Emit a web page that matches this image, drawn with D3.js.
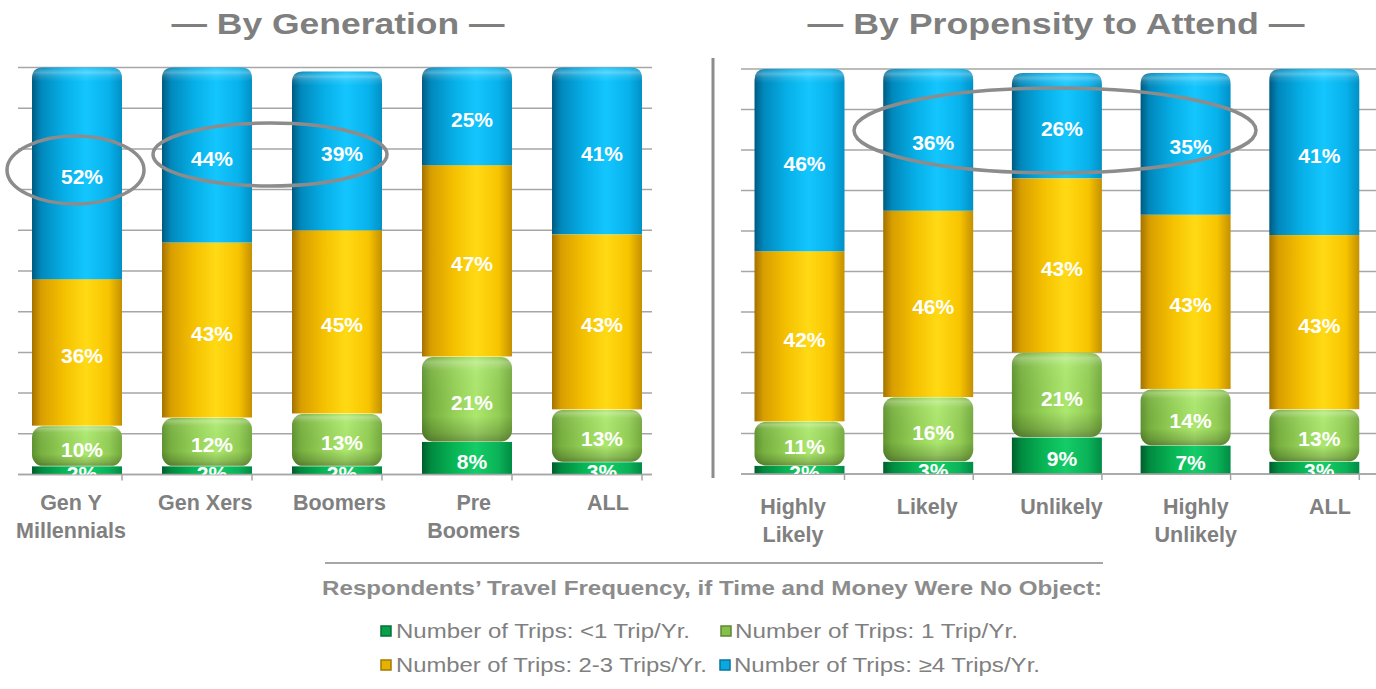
<!DOCTYPE html>
<html>
<head>
<meta charset="utf-8">
<script src="https://cdn.jsdelivr.net/npm/d3@7/dist/d3.min.js"></script>
<style>
  html, body { margin: 0; padding: 0; background: #ffffff; }
  svg { display: block; font-family: "Liberation Sans", Arial, sans-serif; }
</style>
</head>
<body>
<svg id="chart" width="1376" height="689"></svg>
<script>
// ---- data -------------------------------------------------------------
const seriesNames = [
  "Number of Trips: <1 Trip/Yr.",
  "Number of Trips: 1 Trip/Yr.",
  "Number of Trips: 2-3 Trips/Yr.",
  "Number of Trips: \u22654 Trips/Yr."
];

const generationCats = ["Gen Y\nMillennials", "Gen Xers", "Boomers", "Pre\nBoomers", "ALL"];
const genLessThanOne = [2, 2, 2, 8, 3];
const genOne         = [10, 12, 13, 21, 13];
const genTwoThree    = [36, 43, 45, 47, 43];
const genFourPlus    = [52, 44, 39, 25, 41];

const propensityCats = ["Highly\nLikely", "Likely", "Unlikely", "Highly\nUnlikely", "ALL"];
const propLessThanOne = [2, 3, 9, 7, 3];
const propOne         = [11, 16, 21, 14, 13];
const propTwoThree    = [42, 46, 43, 43, 43];
const propFourPlus    = [46, 36, 26, 35, 41];

const yTicks = [0, 10, 20, 30, 40, 50, 60, 70, 80, 90, 100];

const titles = ["\u2014 By Generation \u2014", "\u2014 By Propensity to Attend \u2014"];
const legendTitle = "Respondents\u2019 Travel Frequency, if Time and Money Were No Object:";

// ---- drawing ----------------------------------------------------------
const svg = d3.select("#chart");
const defs = svg.append("defs");
const GRAY = "#808080";
const GRID = "#a6a6a6";

// horizontal shading that gives each segment its cylinder look
const shades = [
  { id: "gDark",  stops: [[0, "#005e2c"], [0.1, "#008a40"], [0.35, "#08b454"], [0.6, "#14cc68"], [0.85, "#0ab258"], [1, "#008c44"]] },
  { id: "gLight", stops: [[0, "#5e9230"], [0.1, "#78b040"], [0.35, "#94d056"], [0.6, "#ace86e"], [0.85, "#94ce56"], [1, "#74aa3e"]] },
  { id: "gGold",  stops: [[0, "#a47200"], [0.1, "#d89e00"], [0.35, "#f4c000"], [0.6, "#ffda14"], [0.85, "#f8c400"], [1, "#c49000"]] },
  { id: "gBlue",  stops: [[0, "#005a80"], [0.1, "#0088bc"], [0.35, "#06aee6"], [0.6, "#14c6fe"], [0.85, "#08b2ec"], [1, "#0090c6"]] }
];
shades.forEach(s => {
  const g = defs.append("linearGradient").attr("id", s.id)
    .attr("x1", 0).attr("x2", 1).attr("y1", 0).attr("y2", 0);
  s.stops.forEach(([o, c]) => g.append("stop").attr("offset", o).attr("stop-color", c));
});
// vertical highlight / shadow on the pill-shaped segment
const pv = defs.append("linearGradient").attr("id", "pillV")
  .attr("x1", 0).attr("x2", 0).attr("y1", 0).attr("y2", 1);
[[0, "#ffffff", 0.0], [0.06, "#ffffff", 0.28], [0.16, "#ffffff", 0.05], [0.7, "#000000", 0.0], [0.9, "#000000", 0.16], [1, "#000000", 0.3]]
  .forEach(([o, c, a]) => pv.append("stop").attr("offset", o).attr("stop-color", c).attr("stop-opacity", a));
// highlight ring near the rounded top of the cylinder
const tv = defs.append("linearGradient").attr("id", "topV")
  .attr("x1", 0).attr("x2", 0).attr("y1", 0).attr("y2", 1);
[[0, "#ffffff", 0.05], [0.35, "#ffffff", 0.3], [0.6, "#ffffff", 0.12], [1, "#ffffff", 0]]
  .forEach(([o, c, a]) => tv.append("stop").attr("offset", o).attr("stop-color", c).attr("stop-opacity", a));

const fills = ["url(#gDark)", "url(#gLight)", "url(#gGold)", "url(#gBlue)"];
const swatch = ["#08a04a", "#86c04a", "#e8b000", "#08a8e0"];

function topRounded(x, y, w, h, r) {
  r = Math.min(r, h, w / 2);
  return `M${x},${y + h}V${y + r}Q${x},${y} ${x + r},${y}H${x + w - r}Q${x + w},${y} ${x + w},${y + r}V${y + h}Z`;
}

const panels = [
  {
    cats: generationCats,
    series: [genLessThanOne, genOne, genTwoThree, genFourPlus],
    xRange: [-8, 642], labelRange: [71, 608], gridX: [18, 652], yRange: [474.5, 67.5],
    title: titles[0], titleX: 338, titleLen: 333, labelY: 510, clipId: "clipL"
  },
  {
    cats: propensityCats,
    series: [propLessThanOne, propOne, propTwoThree, propFourPlus],
    xRange: [715.8, 1359.3], labelRange: [793, 1330], gridX: [741, 1376], yRange: [474, 69],
    title: titles[1], titleX: 1056, titleLen: 497, labelY: 514, clipId: "clipR"
  }
];

const barW = 90;

panels.forEach(p => {
  const x = d3.scaleBand().domain(p.cats).range(p.xRange);
  const xLabel = d3.scalePoint().domain(p.cats).range(p.labelRange);
  const y = d3.scaleLinear().domain([0, 100]).range(p.yRange);
  const barX = c => x(c) + x.bandwidth() - barW;

  const g = svg.append("g");

  // gridlines
  g.selectAll("line.grid").data(yTicks).join("line")
    .attr("x1", p.gridX[0]).attr("x2", p.gridX[1])
    .attr("y1", d => y(d)).attr("y2", d => y(d))
    .attr("stroke", GRID).attr("stroke-width", 1.5);

  // category axis with ticks at band ends
  const axis = g.append("g").attr("transform", `translate(0,${y(0)})`)
    .call(d3.axisBottom(x).tickSize(6).tickFormat(""));
  axis.select(".domain").remove();
  axis.selectAll(".tick").attr("transform", d => `translate(${x(d) + x.bandwidth()},0)`);
  axis.selectAll(".tick line").attr("stroke", GRID).attr("stroke-width", 1.5);

  // stacked layout
  const rows = p.cats.map((c, i) => {
    let acc = 0;
    return p.series.map((s, k) => {
      const y0 = Math.min(acc, 100);
      acc += s[i];
      const y1 = Math.min(acc, 100);
      return { cat: c, k, v: s[i], y0, y1 };
    });
  });
  const segs = rows.flat();

  const bars = g.append("g");
  segs.forEach(d => {
    const bx = barX(d.cat), top = y(d.y1), h = y(d.y0) - y(d.y1);
    if (d.k === 1) {
      const r = Math.min(11, h / 2);
      bars.append("rect").attr("x", bx).attr("y", top + 0.5).attr("width", barW).attr("height", h - 1)
        .attr("rx", r).attr("ry", r).attr("fill", fills[1]);
      bars.append("rect").attr("x", bx).attr("y", top + 0.5).attr("width", barW).attr("height", h - 1)
        .attr("rx", r).attr("ry", r).attr("fill", "url(#pillV)");
    } else if (d.k === 3) {
      bars.append("path").attr("d", topRounded(bx, top, barW, h, 11)).attr("fill", fills[3]);
      bars.append("path").attr("d", topRounded(bx, top, barW, Math.min(14, h), 11)).attr("fill", "url(#topV)");
    } else {
      bars.append("rect").attr("x", bx).attr("y", top).attr("width", barW).attr("height", h)
        .attr("fill", fills[d.k]);
    }
  });

  // axis baseline on top of the bars
  g.append("line").attr("x1", p.gridX[0]).attr("x2", p.gridX[1])
    .attr("y1", y(0)).attr("y2", y(0)).attr("stroke", GRID).attr("stroke-width", 1.5);

  // value labels, clipped at the baseline
  defs.append("clipPath").attr("id", p.clipId).append("rect")
    .attr("x", p.gridX[0] - 20).attr("y", 0).attr("width", p.gridX[1] - p.gridX[0] + 40).attr("height", y(0));
  g.append("g").attr("clip-path", `url(#${p.clipId})`)
    .selectAll("text").data(segs).join("text")
    .attr("x", d => barX(d.cat) + barW / 2 + 5)
    .attr("y", d => (y(d.y0) + y(d.y1)) / 2 + 10.5)
    .attr("text-anchor", "middle")
    .attr("fill", "#ffffff").attr("font-weight", "bold").attr("font-size", 21)
    .text(d => d.v + "%");

  // category labels
  p.cats.forEach(c => {
    const t = g.append("text").attr("text-anchor", "middle")
      .attr("fill", GRAY).attr("font-weight", "bold").attr("font-size", 21.5);
    c.split("\n").forEach((line, i) => {
      t.append("tspan").attr("x", xLabel(c)).attr("y", p.labelY + i * 27.5).text(line);
    });
  });

  // panel title
  g.append("text").attr("x", p.titleX).attr("y", 34).attr("text-anchor", "middle")
    .attr("fill", "#7f7f7f").attr("font-weight", "bold").attr("font-size", 29)
    .attr("textLength", p.titleLen).attr("lengthAdjust", "spacingAndGlyphs")
    .text(p.title);
});

// callout ellipses
const callouts = [
  { cx: 75.5, cy: 170, rx: 68.5, ry: 34 },
  { cx: 270, cy: 154.5, rx: 117, ry: 31.5 },
  { cx: 1055, cy: 130.5, rx: 201, ry: 42.5 }
];
svg.append("g").selectAll("ellipse").data(callouts).join("ellipse")
  .attr("cx", d => d.cx).attr("cy", d => d.cy).attr("rx", d => d.rx).attr("ry", d => d.ry)
  .attr("fill", "none").attr("stroke", "#8c8c8c").attr("stroke-width", 3.5);

// divider between the two panels
svg.append("line").attr("x1", 713).attr("x2", 713).attr("y1", 58).attr("y2", 478)
  .attr("stroke", "#8c8c8c").attr("stroke-width", 3);

// legend
svg.append("line").attr("x1", 325).attr("x2", 1103).attr("y1", 563).attr("y2", 563)
  .attr("stroke", GRID).attr("stroke-width", 2);
svg.append("text").attr("x", 712).attr("y", 595).attr("text-anchor", "middle")
  .attr("fill", "#8c8c8c").attr("font-weight", "bold").attr("font-size", 20)
  .attr("textLength", 780).attr("lengthAdjust", "spacingAndGlyphs")
  .text(legendTitle);

const legendPos = [
  { sx: 381, tx: 396, y: 638, len: 294 },
  { sx: 721, tx: 735, y: 638, len: 283 },
  { sx: 381, tx: 396, y: 672, len: 311 },
  { sx: 720, tx: 734, y: 672, len: 306 }
];
const lg = svg.append("g");
seriesNames.forEach((name, i) => {
  const pos = legendPos[i];
  lg.append("rect").attr("x", pos.sx).attr("y", pos.y - 12).attr("width", 10).attr("height", 10)
    .attr("fill", swatch[i]).attr("stroke", d3.color(swatch[i]).darker(1)).attr("stroke-width", 1.5);
  lg.append("text").attr("x", pos.tx).attr("y", pos.y)
    .attr("fill", GRAY).attr("font-size", 20)
    .attr("textLength", pos.len).attr("lengthAdjust", "spacingAndGlyphs")
    .text(name);
});
</script>
</body>
</html>
